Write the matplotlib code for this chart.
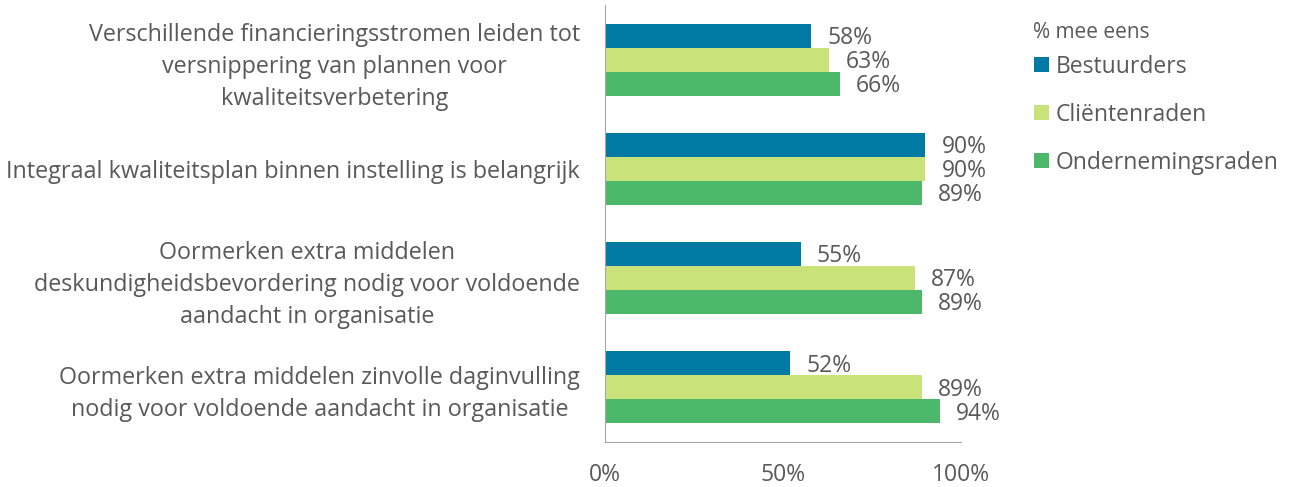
import matplotlib.pyplot as plt
import numpy as np

plt.rcParams['font.family'] = ['Open Sans', 'DejaVu Sans']

categories = [
    'Verschillende financieringsstromen leiden tot\nversnippering van plannen voor\nkwaliteitsverbetering',
    'Integraal kwaliteitsplan binnen instelling is belangrijk',
    'Oormerken extra middelen\ndeskundigheidsbevordering nodig voor voldoende\naandacht in organisatie',
    'Oormerken extra middelen zinvolle daginvulling\nnodig voor voldoende aandacht in organisatie',
]
series = ['Bestuurders', 'Cliëntenraden', 'Ondernemingsraden']
bestuurders = [0.58, 0.90, 0.55, 0.52]
clientenraden = [0.63, 0.90, 0.87, 0.89]
ondernemingsraden = [0.66, 0.89, 0.89, 0.94]
colors = ['#007AA3', '#C9E27A', '#4BB86A']
xticks = [0, 0.5, 1.0]
xticklabels = ['0%', '50%', '100%']

txt = '#595959'

fig = plt.figure(figsize=(12.89, 4.87), dpi=100)
ax = fig.add_axes([605 / 1289, 45 / 487, 356 / 1289, 437 / 487])

y = np.arange(len(categories))
h = 0.22
for k, (vals, col) in enumerate(zip([bestuurders, clientenraden, ondernemingsraden], colors)):
    pos = y + (k - 1) * h
    ax.barh(pos, vals, height=h, color=col, label=series[k])
    for p, v in zip(pos, vals):
        ax.text(v + 0.045, p + 0.02, f'{round(v * 100)}%', va='center', ha='left',
                fontsize=16.5, color=txt)

ax.set_ylim(3.5, -0.5)
ax.set_xlim(0, 1)
ax.set_yticks(y)
ax.set_yticklabels(categories, fontsize=16.8, color=txt, linespacing=1.45)
for t in ax.get_yticklabels():
    t.set_multialignment('center')
ax.set_xticks(xticks)
ax.set_xticklabels(xticklabels, fontsize=16.5, color=txt)
ax.tick_params(axis='both', length=0)
ax.tick_params(axis='y', pad=18)
ax.tick_params(axis='x', pad=15)

for s in ['top', 'right']:
    ax.spines[s].set_visible(False)
ax.spines['left'].set_color('#A6A6A6')
ax.spines['bottom'].set_color('#A6A6A6')

fig.text(1033 / 1289, 1 - 32 / 487, '% mee eens', fontsize=15, color=txt, va='center', ha='left')
leg = ax.legend(loc='upper left', bbox_to_anchor=(1013 / 1289, 1 - 34 / 487),
                bbox_transform=fig.transFigure, frameon=False, fontsize=16.5,
                handlelength=0.65, handleheight=0.65, handletextpad=0.3, labelspacing=1.05)
for t in leg.get_texts():
    t.set_color(txt)

fig.savefig('out.png', dpi=100)
